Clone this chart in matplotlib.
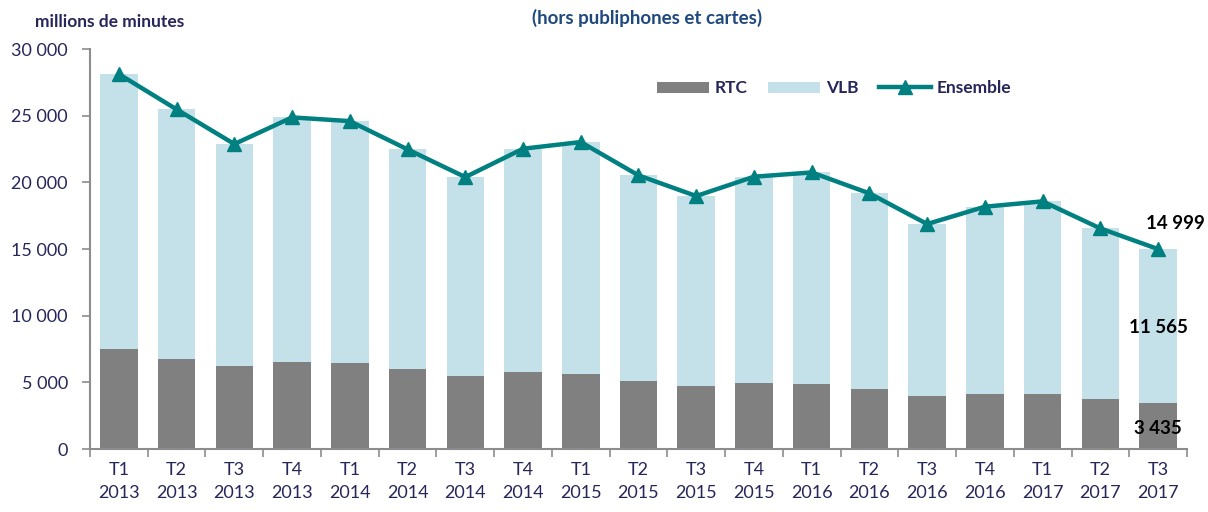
import matplotlib
matplotlib.use("Agg")
import matplotlib.pyplot as plt
import numpy as np
from matplotlib.ticker import FuncFormatter, FixedLocator

plt.rcParams['font.family'] = ['Lato', 'DejaVu Sans']

quarters = ["T1", "T2", "T3", "T4"] * 4 + ["T1", "T2", "T3"]
years = ["2013"] * 4 + ["2014"] * 4 + ["2015"] * 4 + ["2016"] * 4 + ["2017"] * 3
categories = [f"{q}\n{y}" for q, y in zip(quarters, years)]

rtc = [7500, 6775, 6225, 6500, 6475, 5975, 5500, 5775, 5600, 5100,
       4750, 4925, 4875, 4525, 3975, 4125, 4125, 3750, 3435]
vlb = [20630, 18705, 16655, 18380, 18125, 16505, 14900, 16755, 17430, 15430,
       14230, 15505, 15875, 14655, 12905, 14055, 14475, 12800, 11565]
ensemble = [28130, 25480, 22880, 24880, 24600, 22480, 20400, 22530, 23030, 20530,
            18980, 20430, 20750, 19180, 16880, 18180, 18580, 16550, 14999]

navy = "#26265A"
axis_gray = "#8C8C8C"

fig = plt.figure(figsize=(12.08, 5.12), dpi=100)
ax = fig.add_axes([0.0745, 0.123, 0.9081, 0.781])

x = np.arange(len(categories))
h_rtc = ax.bar(x, rtc, width=0.65, color="#808080", label="RTC", zorder=2)
h_vlb = ax.bar(x, vlb, width=0.65, bottom=rtc, color="#C4E1EA", label="VLB", zorder=2)
h_ens, = ax.plot(x, ensemble, color="#008080", lw=3.2, marker="^", markersize=10,
                 label="Ensemble", zorder=3)

ax.set_xlim(-0.5, len(categories) - 0.5)
ax.set_ylim(0, 30000)
ax.set_yticks(np.arange(0, 30001, 5000))
ax.yaxis.set_major_formatter(FuncFormatter(lambda v, p: f"{int(v):,}".replace(",", " ")))

ax.set_xticks(x)
ax.set_xticklabels(categories, linespacing=1.55)
ax.xaxis.set_minor_locator(FixedLocator(np.arange(-0.5, len(categories), 1.0)))
ax.tick_params(axis="x", which="major", length=0, pad=9, labelsize=13, labelcolor=navy)
ax.tick_params(axis="x", which="minor", length=6, width=1.2, color=axis_gray)
ax.tick_params(axis="y", length=6, width=1.2, color=axis_gray, labelsize=13, labelcolor=navy, pad=10)

for s in ["top", "right"]:
    ax.spines[s].set_visible(False)
for s in ["left", "bottom"]:
    ax.spines[s].set_color(axis_gray)
    ax.spines[s].set_linewidth(1.5)

leg = ax.legend([h_rtc, h_vlb, h_ens], ["RTC", "VLB", "Ensemble"],
                loc="center left", bbox_to_anchor=(0.503, 0.9025), ncol=3, frameon=False,
                handlelength=3.0, handleheight=0.6, handletextpad=0.3, columnspacing=1.2,
                prop={"weight": "bold", "size": 12.5})
for t in leg.get_texts():
    t.set_color(navy)

last = len(categories) - 1
fmt = lambda v: f"{v:,}".replace(",", " ")
ax.text(last + 0.3, 16950, fmt(ensemble[last]),
        ha="center", va="center", fontsize=13.5, fontweight="bold", color="black")
ax.text(last + 0.0, 9080, fmt(vlb[last]),
        ha="center", va="center", fontsize=13.5, fontweight="bold", color="black")
ax.text(last + 0.0, 1575, fmt(rtc[last]),
        ha="center", va="center", fontsize=13.5, fontweight="bold", color="black")

fig.text(0.029, 0.957, "millions de minutes", fontsize=12.5, fontweight="bold", color=navy,
         ha="left", va="center")
fig.text(0.536, 0.964, "(hors publiphones et cartes)", fontsize=13.5, fontweight="bold",
         color="#1F497D", ha="center", va="center")

fig.savefig("out.png", dpi=100)
